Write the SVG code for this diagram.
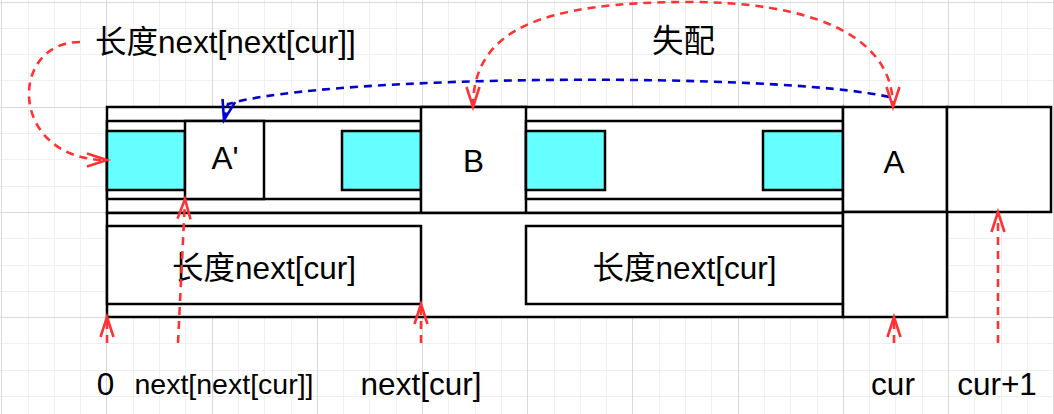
<svg xmlns="http://www.w3.org/2000/svg" width="1054" height="414" viewBox="0 0 1054 414">
<defs>
<style>
.box{fill:#ffffff;stroke:#000000;stroke-width:2.5}
.cyan{fill:#66FFFF;stroke:#000000;stroke-width:2.5}
.t{font-family:"Liberation Sans","Noto Sans CJK SC",Arial,sans-serif;font-size:31.5px;fill:#000000}
.m{text-anchor:middle}
.red{fill:none;stroke:#FF3333;stroke-width:2.6;stroke-dasharray:8 6}
.blue{fill:none;stroke:#0000CC;stroke-width:2.6;stroke-dasharray:8 6}
.minor{fill:none;stroke:#efefef;stroke-width:1}
.major{fill:none;stroke:#d9d9d9;stroke-width:1}
</style>
<marker id="arR" markerUnits="userSpaceOnUse" viewBox="-25 -10 30 20" markerWidth="30" markerHeight="20" refX="0" refY="0" orient="auto-start-reverse" overflow="visible">
<path d="M-20,-6.5 L0,0 L-20,6.5" fill="none" stroke="#FF3333" stroke-width="2.6" stroke-dasharray="none"/>
</marker>
<marker id="arB" markerUnits="userSpaceOnUse" viewBox="-25 -10 30 20" markerWidth="30" markerHeight="20" refX="0" refY="0" orient="auto-start-reverse" overflow="visible">
<path d="M-20,-6.5 L0,0 L-20,6.5" fill="none" stroke="#0000CC" stroke-width="2.6" stroke-dasharray="none"/>
</marker>
</defs>

<rect x="0" y="0" width="1054" height="414" fill="#ffffff"/>
<g id="grid">
<path class="minor" d="M28.5 0V414M54.5 0V414M80.5 0V414M133.5 0V414M159.5 0V414M185.5 0V414M238.5 0V414M264.5 0V414M291.5 0V414M343.5 0V414M369.5 0V414M396.5 0V414M448.5 0V414M475.5 0V414M501.5 0V414M554.5 0V414M580.5 0V414M606.5 0V414M659.5 0V414M685.5 0V414M711.5 0V414M764.5 0V414M790.5 0V414M817.5 0V414M869.5 0V414M895.5 0V414M922.5 0V414M974.5 0V414M1001.5 0V414M1027.5 0V414M0 28.5H1054M0 54.5H1054M0 80.5H1054M0 133.5H1054M0 159.5H1054M0 186.5H1054M0 238.5H1054M0 265.5H1054M0 291.5H1054M0 343.5H1054M0 370.5H1054M0 396.5H1054"/>
<path class="major" d="M1.5 0V414M106.5 0V414M212.5 0V414M317.5 0V414M422.5 0V414M527.5 0V414M632.5 0V414M738.5 0V414M843.5 0V414M948.5 0V414M1053.5 0V414M0 2.5H1054M0 107.5H1054M0 212.5H1054M0 317.5H1054"/>
</g>

<g id="upper-row"><rect class="box" x="107" y="107" width="736" height="106"/></g>
<g id="left-segment"><rect class="box" x="107" y="121" width="314" height="78"/></g>
<g id="cyan-1"><rect class="cyan" x="107" y="131" width="78" height="59"/></g>
<g id="a-prime"><rect class="box" x="185" y="121" width="79" height="78"/><text class="t m" x="225" y="169">A'</text></g>
<g id="cyan-2"><rect class="cyan" x="342" y="131" width="79" height="59"/></g>
<g id="b-box"><rect class="box" x="421" y="107" width="105" height="106"/><text class="t m" x="473.5" y="172">B</text></g>
<g id="right-segment"><rect class="box" x="526" y="121" width="317" height="78"/></g>
<g id="cyan-3"><rect class="cyan" x="526" y="131" width="79" height="59"/></g>
<g id="cyan-4"><rect class="cyan" x="763" y="131" width="80" height="59"/></g>

<g id="lower-row"><rect class="box" x="107" y="213" width="736" height="104"/></g>
<g id="len-left"><rect class="box" x="107" y="226" width="314" height="78"/><text class="t m" x="264" y="279">长度next[cur]</text></g>
<g id="len-right"><rect class="box" x="526" y="226" width="317" height="78"/><text class="t m" x="684.5" y="279">长度next[cur]</text></g>

<g id="a-box"><rect class="box" x="843" y="107" width="104" height="105"/><text class="t m" x="894" y="173">A</text></g>
<g id="cur-cell"><rect class="box" x="843" y="212" width="104" height="105"/></g>
<g id="next-cell"><rect class="box" x="947" y="107" width="104" height="105"/></g>

<g id="label-len-nextnext"><text class="t" x="95" y="53">长度next[next[cur]]</text></g>
<g id="label-mismatch"><text class="t m" x="683.5" y="52">失配</text></g>
<g id="label-0"><text class="t m" x="105.5" y="395">0</text></g>
<g id="label-nextnextcur"><text class="t m" x="224" y="394" style="font-size:28.5px">next[next[cur]]</text></g>
<g id="label-nextcur"><text class="t m" x="421" y="395">next[cur]</text></g>
<g id="label-cur"><text class="t m" x="893" y="395">cur</text></g>
<g id="label-cur1"><text class="t m" x="997" y="395">cur+1</text></g>

<g id="connectors">
<path class="red" d="M80 42 C8 42, 8 160, 107 160" marker-end="url(#arR)"/>
<path class="blue" d="M889 97 C780 72, 330 74, 228 104 L224 120" marker-end="url(#arB)"/>
<path class="red" d="M473 107 C473 30, 540 2, 690 2 C800 2, 893 30, 893 107" marker-start="url(#arR)" marker-end="url(#arR)"/>
<path class="red" d="M107 343 L107 317" marker-end="url(#arR)"/>
<path class="red" d="M178 343 L185 199" marker-end="url(#arR)"/>
<path class="red" d="M421 343 L421 304" marker-end="url(#arR)"/>
<path class="red" d="M894 343 L894 317" marker-end="url(#arR)"/>
<path class="red" d="M998 343 L998 212" marker-end="url(#arR)"/>
</g>
</svg>
